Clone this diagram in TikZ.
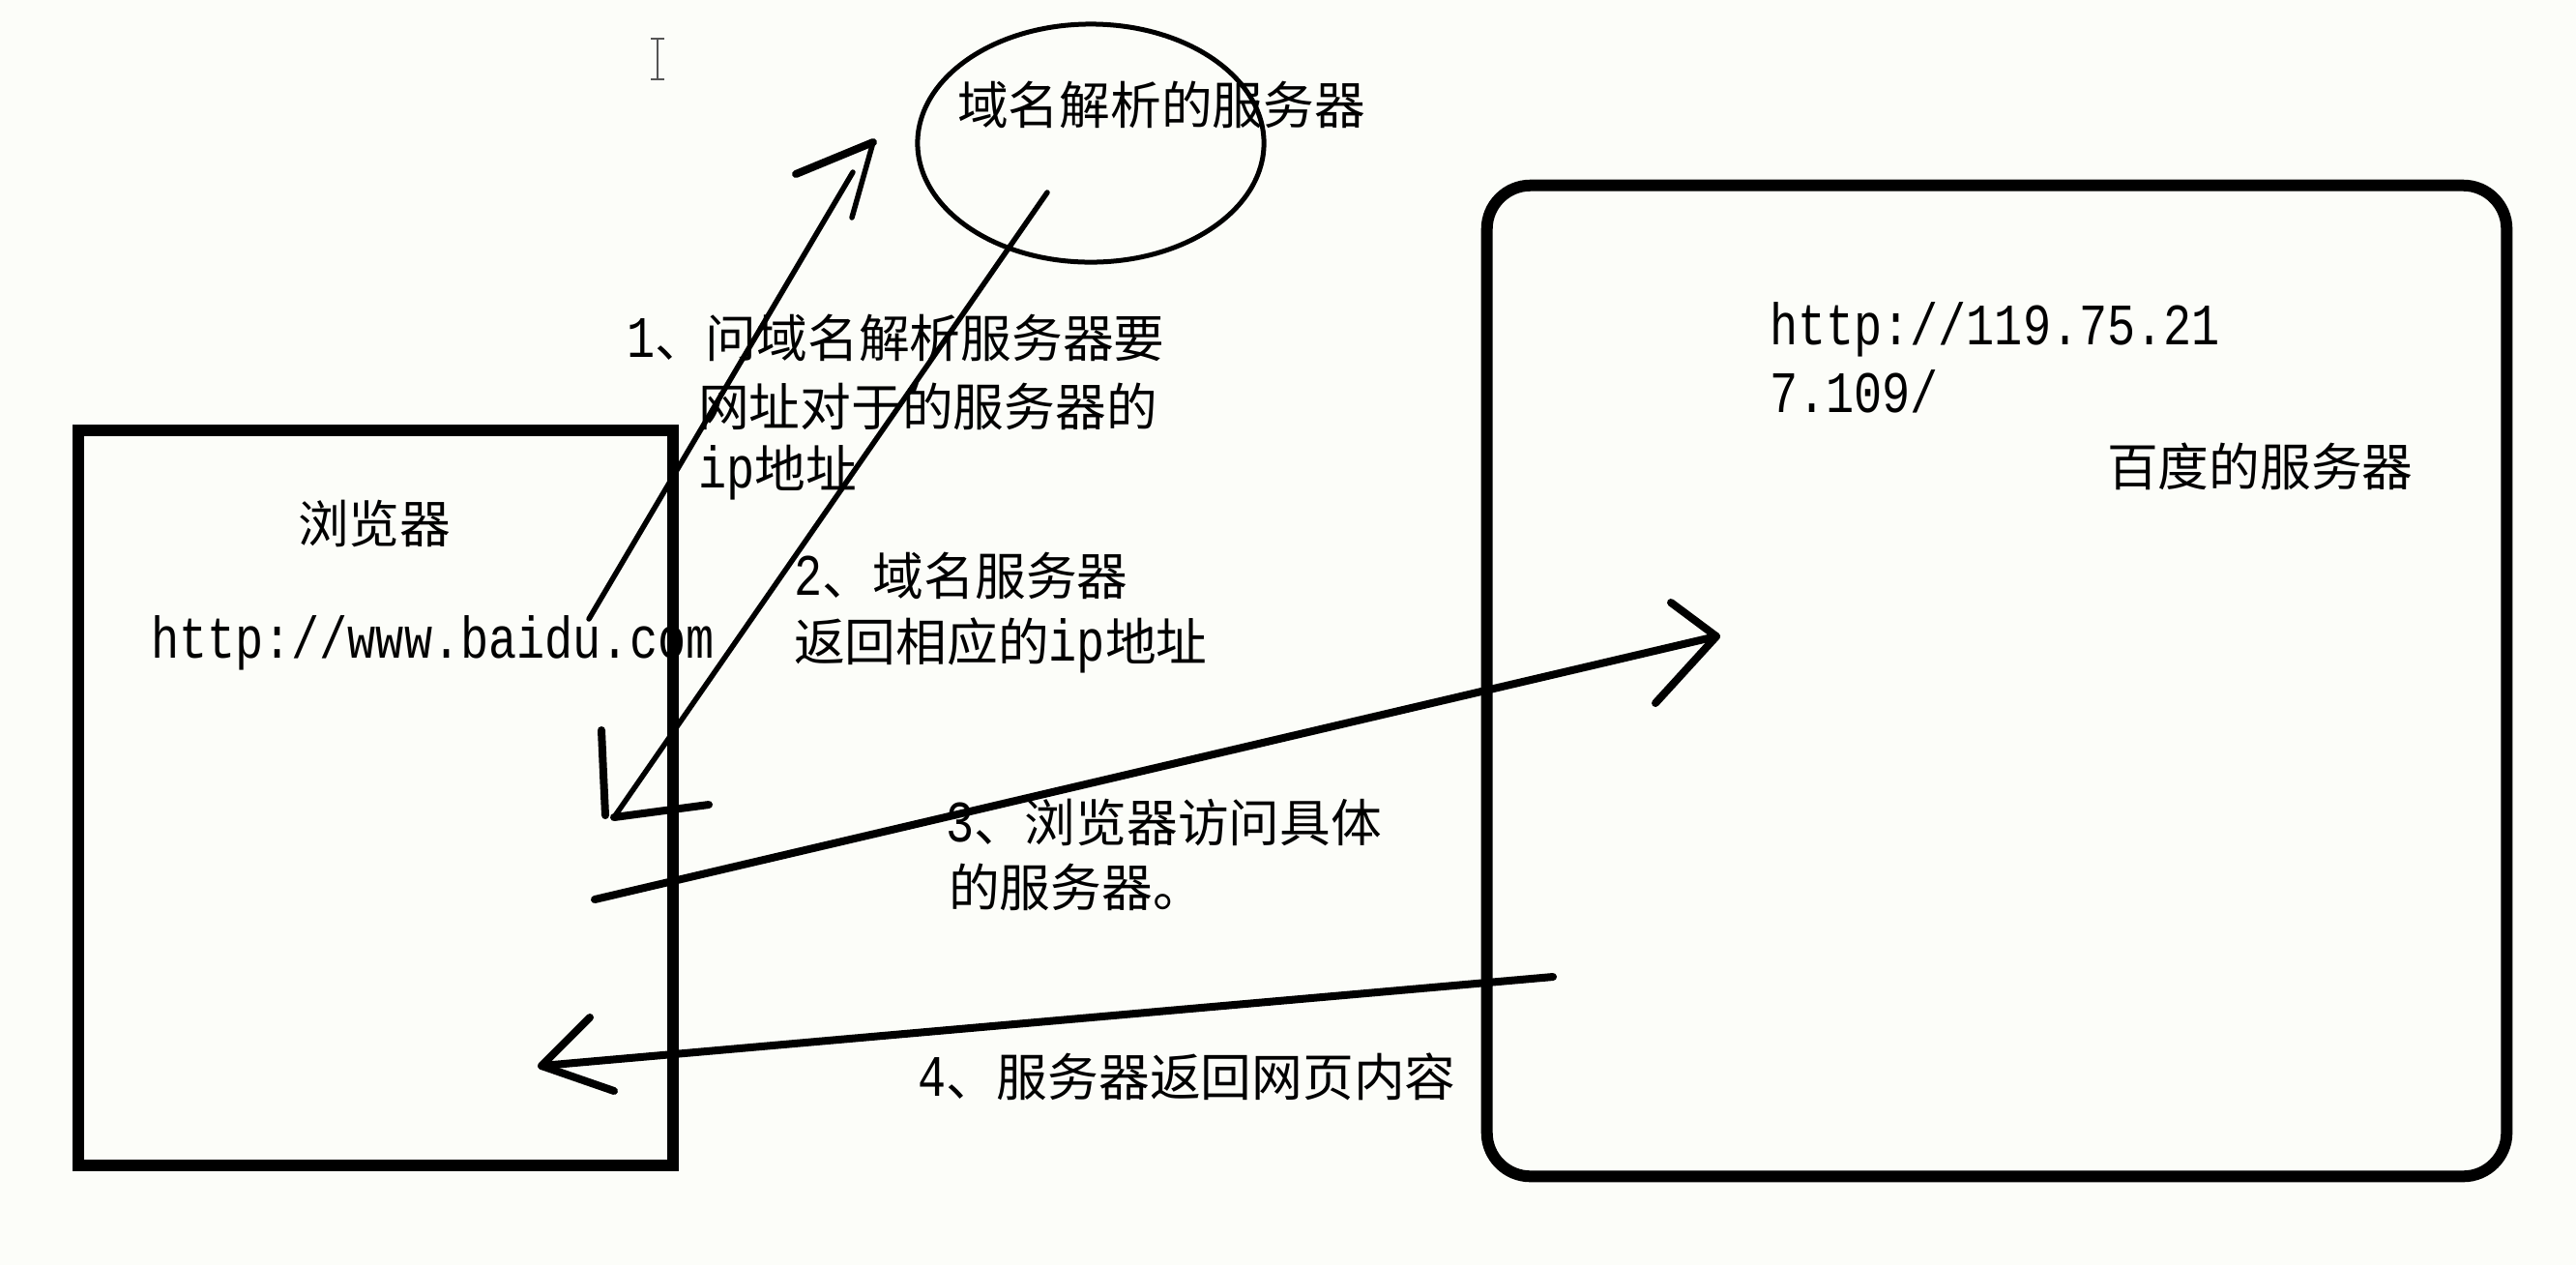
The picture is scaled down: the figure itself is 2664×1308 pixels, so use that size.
\documentclass[tikz,border=0pt]{standalone}
\usepackage{fontspec}
\setmainfont{Noto Sans CJK SC}
\newfontfamily\mono[Scale=1.15,FakeStretch=0.8]{Liberation Mono}
\usetikzlibrary{shapes.geometric}
\definecolor{bg}{RGB}{252,253,249}
\definecolor{cursorgray}{RGB}{85,85,85}
\tikzset{
  lbl/.style={anchor=west, inner sep=0pt, outer sep=0pt, text=black,
    font=\fontsize{15pt}{18pt}\selectfont},
  boxframe/.style={draw=black, line width=0.12cm, line join=miter, inner sep=0pt},
  dnsframe/.style={draw=black, ellipse, line width=0.05cm, inner sep=0pt},
  shaft/.style={draw=black, line width=0.055cm, line cap=round, line join=round},
  heavy/.style={draw=black, line width=0.08cm, line cap=round, line join=round},
  cursorline/.style={draw=cursorgray, line width=0.025cm}
}
\begin{document}
\begin{tikzpicture}[x=0.01cm,y=-0.01cm]
\fill[bg] (0,0) rectangle (2664,1308);
\useasboundingbox (0,0) rectangle (2664,1308);

% text cursor (I-beam)
\coordinate (cur1) at (680,40);
\coordinate (cur2) at (680,82);
\draw[cursorline] (cur1) -- (cur2);
\draw[cursorline] ([xshift=-0.07cm]cur1) -- ([xshift=0.07cm]cur1);
\draw[cursorline] ([xshift=-0.07cm]cur2) -- ([xshift=0.07cm]cur2);

% boxes
\node[boxframe, minimum width=6.15cm, minimum height=7.6cm] (browser) at (388.5,825) {};
\node[boxframe, rounded corners=0.45cm, minimum width=10.54cm, minimum height=10.24cm] (baidu) at (2065,704) {};
\node[dnsframe, minimum width=3.58cm, minimum height=2.46cm] (dns) at (1128,148) {};

% labels
\node[lbl] (dnslbl) at (990,108) {域名解析的服务器};
\node[lbl] (brlbl) at (308,541) {浏览器};
\node[lbl] (brurl) at (156,665) {\mono http://www.baidu.com};
\node[lbl] (ip1) at (1830,341) {\mono http://119.75.21};
\node[lbl] (ip2) at (1830,405) {\mono 7.109/};
\node[lbl] (bdlbl) at (2179,482) {百度的服务器};

\node[lbl] (s1a) at (648,349) {{\mono 1}、问域名解析服务器要};
\node[lbl] (s1b) at (722,420) {网址对于的服务器的};
\node[lbl] (s1c) at (722,489) {{\mono ip}地址};

\node[lbl] (s2a) at (821,595) {{\mono 2}、域名服务器};
\node[lbl] (s2b) at (821,667) {返回相应的{\mono ip}地址};

\node[lbl] (s3a) at (978,850) {{\mono 3}、浏览器访问具体};
\node[lbl] (s3b) at (981,917) {的服务器。};

\node[lbl] (s4) at (949,1113) {{\mono 4}、服务器返回网页内容};

% arrow 1: browser -> DNS server
\coordinate (a1s) at (609,640);
\coordinate (a1e) at (882,178);
\coordinate (a1t) at (903,147);
\coordinate (a1l) at (823,180);
\coordinate (a1r) at (881,225);
\draw[shaft] (a1s) -- (a1e);
\draw[heavy] (a1l) -- (a1t);
\draw[shaft] (a1t) -- (a1r);

% arrow 2: DNS server -> browser
\coordinate (a2s) at (1083,199);
\coordinate (a2t) at (635,845);
\coordinate (a2u) at (622,755);
\coordinate (a2k) at (624,800);
\coordinate (a2r) at (733,832);
\draw[shaft] (a2s) -- (a2t);
\draw[heavy] (a2u) -- (a2k) -- (626,843);
\draw[heavy] (a2t) -- (a2r);

% arrow 3: browser -> baidu server
\coordinate (a3s) at (615,930);
\coordinate (a3t) at (1775,658);
\coordinate (a3u) at (1728,623);
\coordinate (a3d) at (1712,727);
\draw[heavy] (a3s) -- (a3t);
\draw[heavy] (a3u) -- (a3t) -- (a3d);

% arrow 4: baidu server -> browser
\coordinate (a4s) at (1606,1010);
\coordinate (a4t) at (560,1102);
\coordinate (a4u) at (610,1052);
\coordinate (a4d) at (635,1128);
\draw[heavy] (a4s) -- (a4t);
\draw[heavy] (a4u) -- (a4t) -- (a4d);
\end{tikzpicture}
\end{document}
